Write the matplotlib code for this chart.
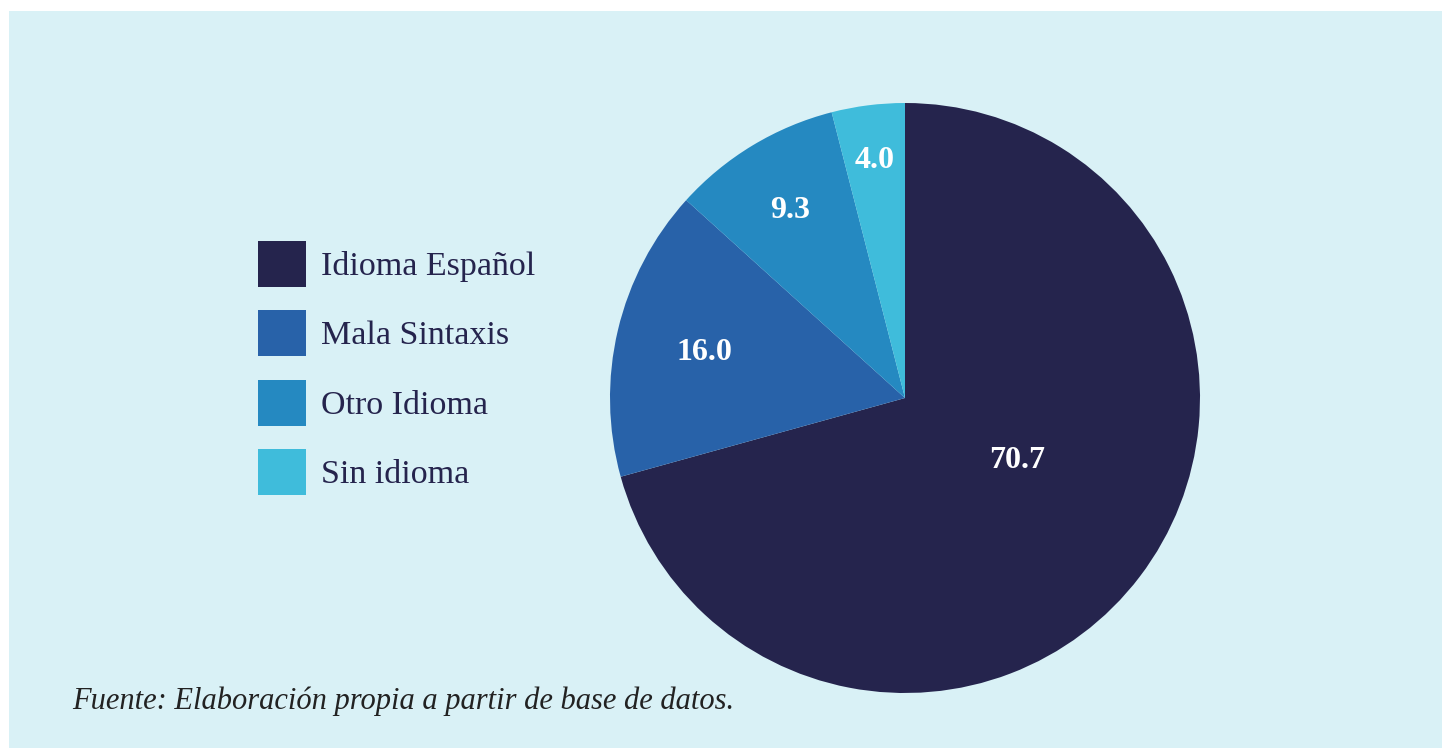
import numpy as np
import matplotlib.pyplot as plt
from matplotlib.patches import Rectangle, Patch

# Data
categories = ["Idioma Español", "Mala Sintaxis", "Otro Idioma", "Sin idioma"]
values = [70.7, 16.0, 9.3, 4.0]
value_labels = ["70.7", "16.0", "9.3", "4.0"]
source_note = "Fuente: Elaboración propia a partir de base de datos."

colors = ["#25244d", "#2862a9", "#2589c1", "#3fbcdb"]
label_radius = [0.43, 0.70, 0.75, 0.82]
label_angle_shift = [9, 0, 0, 0]
bg = "#d9f1f6"

W, H = 1442, 748
fig = plt.figure(figsize=(W / 100, H / 100), dpi=100)
fig.patch.set_facecolor("white")

# light blue panel
fig.patches.append(Rectangle((9 / W, 0), 1 - 9 / W, 1 - 11 / H,
                             transform=fig.transFigure, facecolor=bg,
                             edgecolor="none", zorder=-5))

# Pie axes: center (905, 398), radius 295 px
cx, cy, r = 905, 398, 295
ax = fig.add_axes([(cx - r) / W, (H - cy - r) / H, 2 * r / W, 2 * r / H])
ax.set_zorder(2)
ax.set_facecolor("none")
wedges, _ = ax.pie(values, colors=colors, startangle=90, counterclock=False,
                   wedgeprops=dict(linewidth=0))
ax.set_xlim(-1, 1)
ax.set_ylim(-1, 1)
ax.set_aspect("equal")
ax.axis("off")

for w, lab, rad, shift in zip(wedges, value_labels, label_radius, label_angle_shift):
    ang = np.deg2rad((w.theta1 + w.theta2) / 2 + shift)
    ax.text(rad * np.cos(ang), rad * np.sin(ang) - 0.008, lab, ha="center", va="center",
            color="white", fontsize=23, fontweight="bold", family="Liberation Serif")

# Legend
handles = [Patch(facecolor=c, edgecolor="none") for c in colors]
fig.legend(handles, categories, loc="upper left",
           bbox_to_anchor=(258 / W, 1 - 241 / H), frameon=False,
           prop=dict(family="Liberation Serif", size=24.5),
           labelcolor="#25244d", handlelength=1.40, handleheight=1.71,
           labelspacing=0.68, handletextpad=0.45, borderpad=0, borderaxespad=0)

# Source note
fig.text(72 / W, 1 - 701 / H, source_note, ha="left", va="center",
         fontsize=22, style="italic", family="Liberation Serif", color="#222222")

fig.savefig("out.png", dpi=100, facecolor=fig.get_facecolor())
